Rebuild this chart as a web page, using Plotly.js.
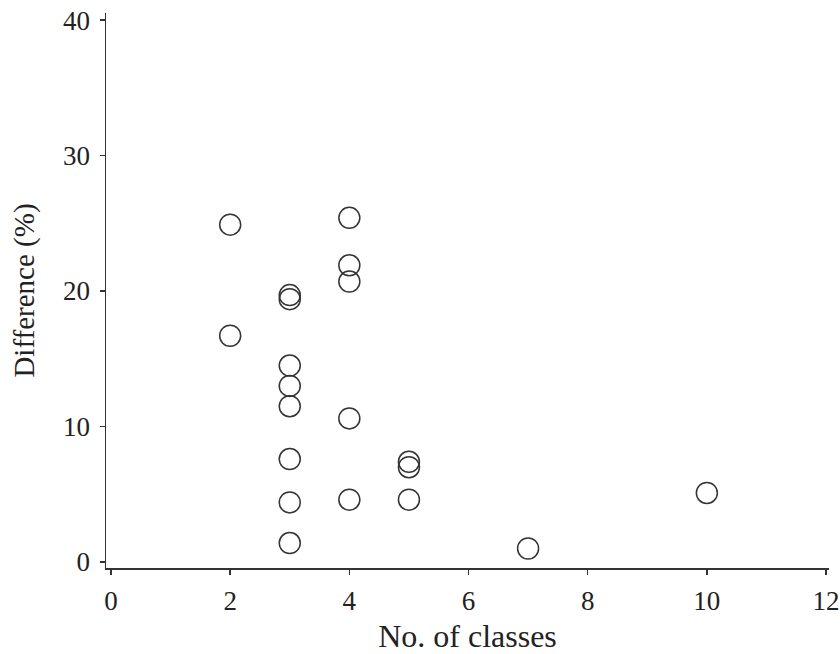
<!DOCTYPE html>
<html>
<head>
<meta charset="utf-8">
<script src="https://cdn.plot.ly/plotly-3.0.1.min.js"></script>
<style>html,body{margin:0;padding:0;background:#fff}#chart{width:840px;height:654px}</style>
</head>
<body>
<div id="chart"></div>
<script>
const classes = [2, 2, 3, 3, 3, 3, 3, 3, 3, 3, 4, 4, 4, 4, 4, 5, 5, 5, 7, 10];
const difference = [24.9, 16.7, 19.7, 19.4, 14.5, 13.0, 11.5, 7.6, 4.4, 1.4, 25.4, 21.9, 20.7, 10.6, 4.6, 7.4, 7.0, 4.6, 1.0, 5.1];
const xTicks = [0, 2, 4, 6, 8, 10, 12];
const yTicks = [0, 10, 20, 30, 40];

const font = {family: 'Liberation Serif, Times New Roman, serif', color: '#222'};

Plotly.newPlot('chart', [{
  x: classes, y: difference, type: 'scatter', mode: 'markers',
  marker: {symbol: 'circle-open', size: 21, color: '#333', line: {width: 1.5, color: '#333'}},
  hoverinfo: 'skip'
}], {
  width: 840, height: 654,
  margin: {l: 106, r: 11, t: 13, b: 86},
  paper_bgcolor: '#fff', plot_bgcolor: '#fff',
  showlegend: false,
  xaxis: {
    range: [-0.084, 12.05], tickvals: xTicks, ticktext: xTicks.map(String),
    showgrid: false, zeroline: false, showline: true, linecolor: '#333', linewidth: 1.5,
    ticks: 'outside', ticklen: 5, tickwidth: 1.5, tickcolor: '#333',
    ticklabelstandoff: 3,
    tickfont: Object.assign({size: 27}, font),
    title: {text: 'No. of classes', font: Object.assign({size: 32}, font), standoff: 10}
  },
  yaxis: {
    range: [-0.44, 40.52], tickvals: yTicks, ticktext: yTicks.map(String),
    showgrid: false, zeroline: false, showline: true, linecolor: '#333', linewidth: 1.5,
    ticks: 'outside', ticklen: 5, tickwidth: 1.5, tickcolor: '#333',
    ticklabelstandoff: 4,
    tickfont: Object.assign({size: 27}, font),
    title: {text: 'Difference (%)', font: Object.assign({size: 29}, font), standoff: 20}
  }
}, {displayModeBar: false, staticPlot: true});
</script>
</body>
</html>
